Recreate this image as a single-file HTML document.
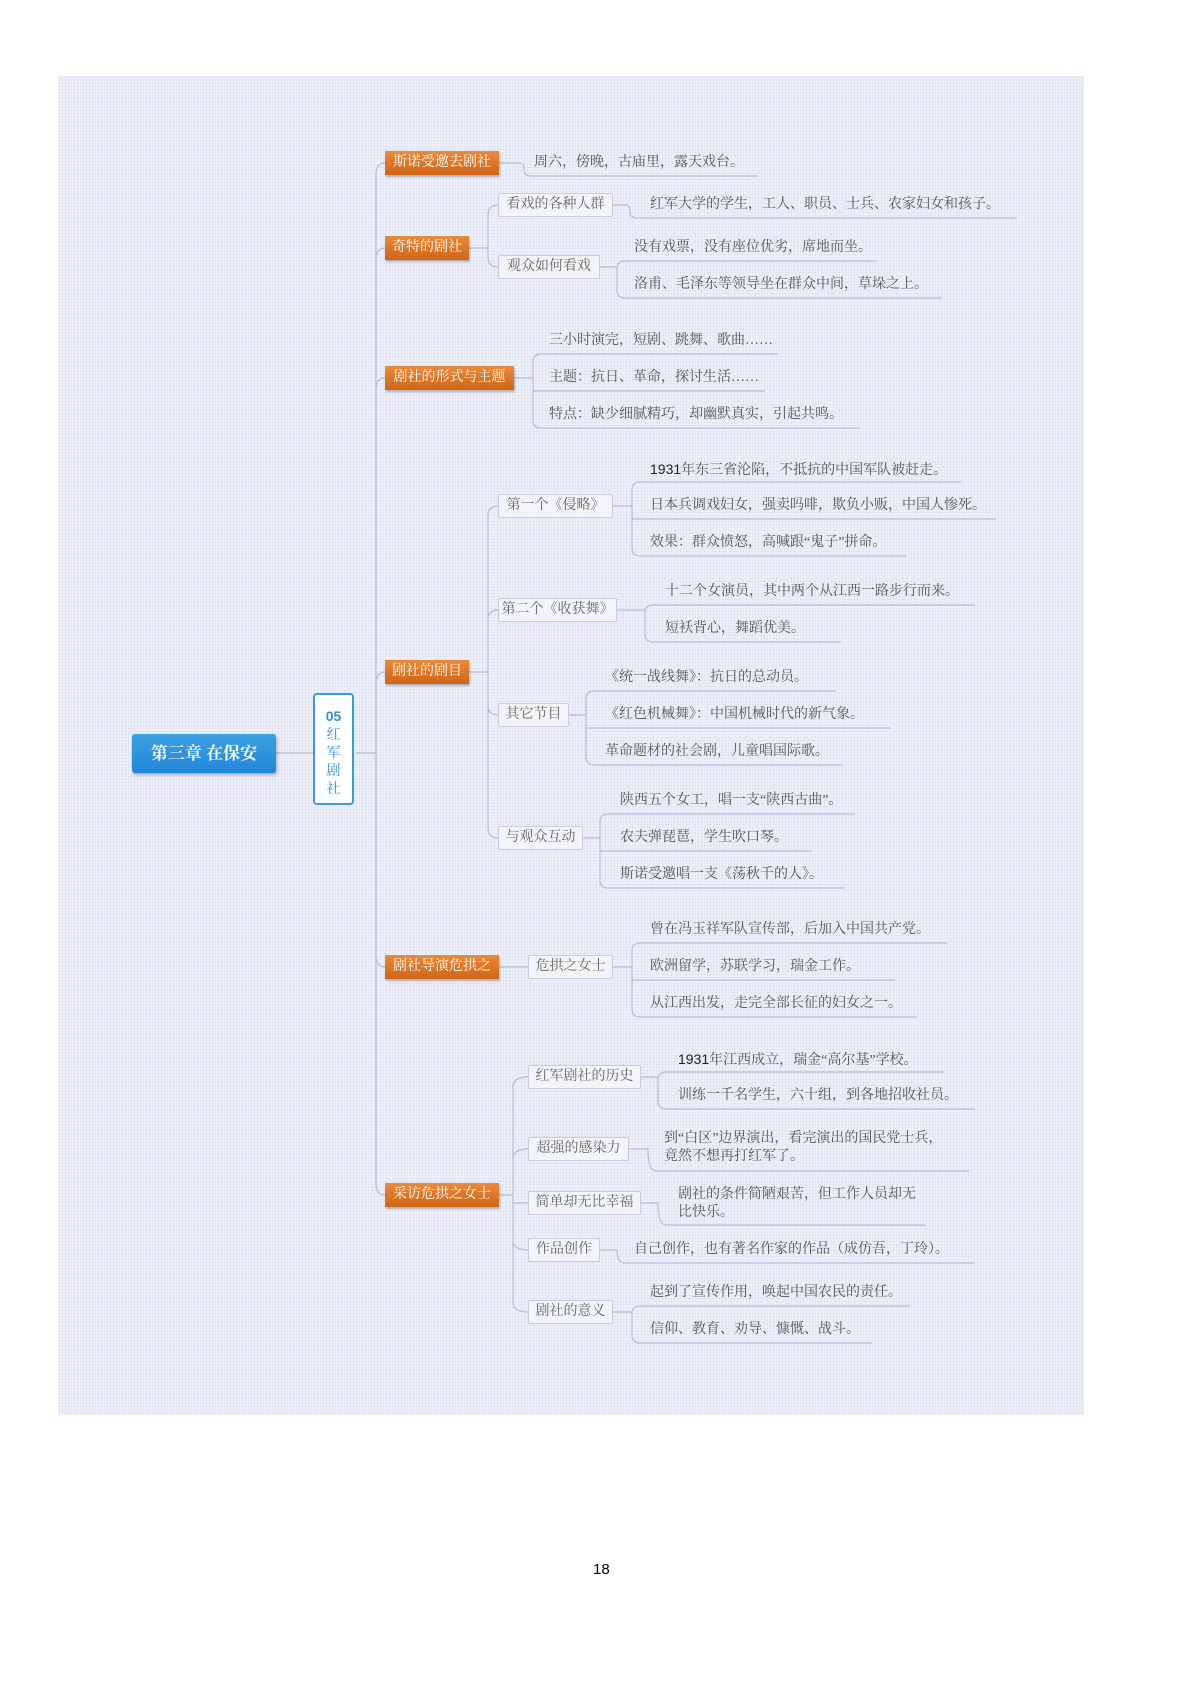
<!DOCTYPE html>
<html><head><meta charset="utf-8"><style>
body{margin:0;width:1200px;height:1698px;background:#fff;position:relative;font-family:"Liberation Serif","Noto Serif CJK SC","Noto Sans CJK SC",serif;overflow:hidden}
#panel{position:absolute;left:58px;top:76px;width:1026px;height:1339px;background:#eef0f9;background-image:radial-gradient(#dde1f2 0.8px,transparent 0.8px);background-size:3px 3px}
svg{position:absolute;left:0;top:0}
.t{position:absolute;font-size:14px;line-height:18px;color:#555;white-space:nowrap}
.o{position:absolute;height:24px;line-height:24px;font-size:14px;color:#fff;text-align:center;background:linear-gradient(#eb8a3a,#cf6517);box-shadow:1px 2px 2px rgba(0,0,0,.25)}
.s{position:absolute;height:22px;line-height:22px;font-size:14px;color:#666;text-align:center;border:1px solid #c9cce2;background:#f3f4fb;border-radius:2px}
.b{font-family:"Liberation Sans",sans-serif;color:#222}
</style></head><body>
<div id="panel"></div>
<svg width="1200" height="1698" fill="none" stroke="#b9bdd9" stroke-width="1.2">
<path d="M276 753H313"/>
<path d="M356 753H376M376 753V175Q376 163 385 163M376 753V260Q376 248 385 248M376 753V390Q376 378 385 378M376 753V684Q376 672 385 672M376 753V955Q376 967 385 967M376 753V1183Q376 1195 385 1195"/>
<path d="M499 163H520Q524 163 524 170Q524 176 532 176H758"/>
<path d="M469 248H488M488 248V215Q488 205 498 205M488 248V257Q488 267 498 267"/>
<path d="M613 205H626Q630 205 630 212Q630 218 638 218H1017"/>
<path d="M600 267H617M617 267V269Q617 261 625 261H877M617 267V290Q617 298 625 298H942"/>
<path d="M514 378H533M533 378V362Q533 354 541 354H778M533 378V391H765M533 378V420Q533 428 541 428H860"/>
<path d="M469 672H488M488 672V516Q488 506 498 506M488 672V620Q488 610 498 610M488 672V705Q488 715 498 715M488 672V828Q488 838 498 838"/>
<path d="M613 506H632M632 506V490Q632 482 640 482H961M632 506V519H996M632 506V548Q632 556 640 556H906"/>
<path d="M617 610H645M645 610V613Q645 605 653 605H975M645 610V634Q645 642 653 642H841"/>
<path d="M569 715H586M586 715V699Q586 691 594 691H836M586 715V728H890M586 715V757Q586 765 594 765H843"/>
<path d="M583 838H600M600 838V822Q600 814 608 814H855M600 838V851H812M600 838V880Q600 888 608 888H844"/>
<path d="M499 967H528"/>
<path d="M613 967H632M632 967V951Q632 943 640 943H947M632 967V980H895M632 967V1009Q632 1017 640 1017H917"/>
<path d="M499 1195H513M513 1195V1087Q513 1077 528 1077M513 1195V1159Q513 1149 528 1149M513 1195V1203H528M513 1195V1240Q513 1250 528 1250M513 1195V1302Q513 1312 528 1312"/>
<path d="M641 1077H658M658 1077V1080Q658 1072 666 1072H944M658 1077V1101Q658 1109 666 1109H975"/>
<path d="M629 1149H648Q648 1171 656 1171H969"/>
<path d="M641 1203H658Q658 1225 666 1225H926"/>
<path d="M600 1250H617Q617 1263 625 1263H975"/>
<path d="M613 1312H632M632 1312V1314Q632 1306 640 1306H910M632 1312V1335Q632 1343 640 1343H872"/>
</svg>

<div style="position:absolute;left:132px;top:734px;width:144px;height:39px;background:linear-gradient(#3ea0e6,#1f86d6);border-radius:3px;box-shadow:1px 2px 3px rgba(0,0,0,.3);color:#fff;font-size:17px;font-weight:bold;line-height:39px;text-align:center">第三章 在保安</div>
<div style="position:absolute;left:313px;top:693px;width:41px;height:112px;background:#fff;border:2px solid #3a9ae0;border-radius:4px;color:#2f8fd8;font-size:14px;text-align:center;line-height:18px;padding-top:12px;box-sizing:border-box"><b class="b" style="color:#2f8fd8">05</b><br>红<br>军<br>剧<br>社</div>

<div class="o" style="left:385px;top:151px;width:114px">斯诺受邀去剧社</div>
<div class="o" style="left:385px;top:236px;width:84px">奇特的剧社</div>
<div class="o" style="left:385px;top:366px;width:129px">剧社的形式与主题</div>
<div class="o" style="left:385px;top:660px;width:84px">剧社的剧目</div>
<div class="o" style="left:385px;top:955px;width:114px">剧社导演危拱之</div>
<div class="o" style="left:385px;top:1183px;width:114px">采访危拱之女士</div>

<div class="s" style="left:498px;top:193px;width:113px">看戏的各种人群</div>
<div class="s" style="left:498px;top:255px;width:100px">观众如何看戏</div>
<div class="s" style="left:498px;top:494px;width:113px">第一个《侵略》</div>
<div class="s" style="left:498px;top:598px;width:117px">第二个《收获舞》</div>
<div class="s" style="left:498px;top:703px;width:69px">其它节目</div>
<div class="s" style="left:498px;top:826px;width:83px">与观众互动</div>
<div class="s" style="left:528px;top:955px;width:83px">危拱之女士</div>
<div class="s" style="left:528px;top:1065px;width:111px">红军剧社的历史</div>
<div class="s" style="left:528px;top:1137px;width:99px">超强的感染力</div>
<div class="s" style="left:528px;top:1191px;width:111px">简单却无比幸福</div>
<div class="s" style="left:528px;top:1238px;width:70px">作品创作</div>
<div class="s" style="left:528px;top:1300px;width:83px">剧社的意义</div>

<div class="t" style="left:534px;top:154px">周六，傍晚，古庙里，露天戏台。</div>
<div class="t" style="left:650px;top:196px">红军大学的学生，工人、职员、士兵、农家妇女和孩子。</div>
<div class="t" style="left:634px;top:239px">没有戏票，没有座位优劣，席地而坐。</div>
<div class="t" style="left:634px;top:276px">洛甫、毛泽东等领导坐在群众中间，草垛之上。</div>
<div class="t" style="left:549px;top:332px">三小时演完，短剧、跳舞、歌曲……</div>
<div class="t" style="left:549px;top:369px">主题：抗日、革命，探讨生活……</div>
<div class="t" style="left:549px;top:406px">特点：缺少细腻精巧，却幽默真实，引起共鸣。</div>
<div class="t" style="left:650px;top:460px"><span class="b">1931</span>年东三省沦陷，不抵抗的中国军队被赶走。</div>
<div class="t" style="left:650px;top:497px">日本兵调戏妇女，强卖吗啡，欺负小贩，中国人惨死。</div>
<div class="t" style="left:650px;top:534px">效果：群众愤怒，高喊跟“鬼子”拼命。</div>
<div class="t" style="left:665px;top:583px">十二个女演员，其中两个从江西一路步行而来。</div>
<div class="t" style="left:665px;top:620px">短袄背心，舞蹈优美。</div>
<div class="t" style="left:605px;top:669px">《统一战线舞》：抗日的总动员。</div>
<div class="t" style="left:605px;top:706px">《红色机械舞》：中国机械时代的新气象。</div>
<div class="t" style="left:605px;top:743px">革命题材的社会剧，儿童唱国际歌。</div>
<div class="t" style="left:620px;top:792px">陕西五个女工，唱一支“陕西古曲”。</div>
<div class="t" style="left:620px;top:829px">农夫弹琵琶，学生吹口琴。</div>
<div class="t" style="left:620px;top:866px">斯诺受邀唱一支《荡秋千的人》。</div>
<div class="t" style="left:650px;top:921px">曾在冯玉祥军队宣传部，后加入中国共产党。</div>
<div class="t" style="left:650px;top:958px">欧洲留学，苏联学习，瑞金工作。</div>
<div class="t" style="left:650px;top:995px">从江西出发，走完全部长征的妇女之一。</div>
<div class="t" style="left:678px;top:1050px"><span class="b">1931</span>年江西成立，瑞金“高尔基”学校。</div>
<div class="t" style="left:678px;top:1087px">训练一千名学生，六十组，到各地招收社员。</div>
<div class="t" style="left:664px;top:1130px">到“白区”边界演出，看完演出的国民党士兵，<br>竟然不想再打红军了。</div>
<div class="t" style="left:678px;top:1186px">剧社的条件简陋艰苦，但工作人员却无<br>比快乐。</div>
<div class="t" style="left:634px;top:1241px">自己创作，也有著名作家的作品（成仿吾，丁玲）。</div>
<div class="t" style="left:650px;top:1284px">起到了宣传作用，唤起中国农民的责任。</div>
<div class="t" style="left:650px;top:1321px">信仰、教育、劝导、慷慨、战斗。</div>

<div style="position:absolute;left:593px;top:1561px;font-family:'Liberation Sans',sans-serif;font-size:15px;color:#000">18</div>
</body></html>
